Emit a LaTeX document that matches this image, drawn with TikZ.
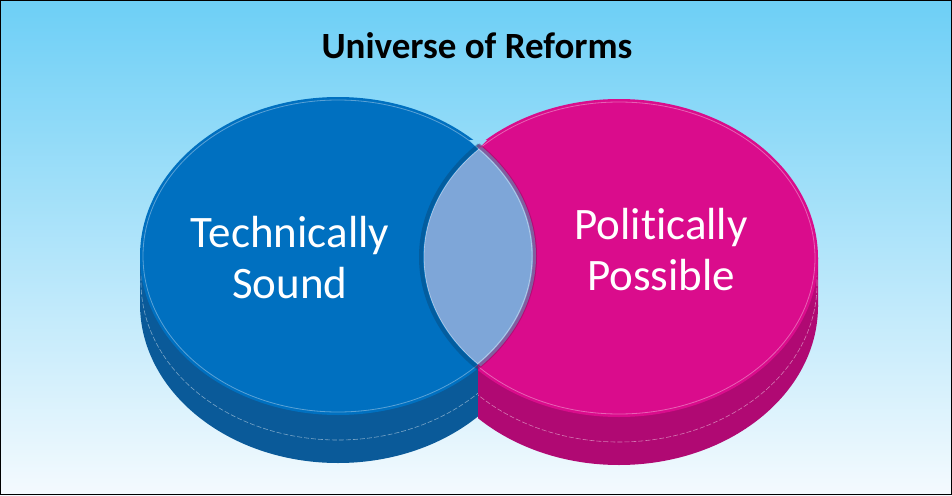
\documentclass[tikz,border=0pt]{standalone}
\usepackage{fontspec}
\setmainfont[Ligatures=NoCommon]{Carlito}
\usepackage{tikz}

\definecolor{skytop}{HTML}{6DCFF6}
\definecolor{skybot}{HTML}{F4FAFE}
\definecolor{techblue}{HTML}{0070C0}
\definecolor{techside}{HTML}{0B64AA}
\definecolor{polpink}{HTML}{DA0C8C}
\definecolor{polside}{HTML}{C40A80}
\definecolor{lensblue}{HTML}{7EA6D8}

\begin{document}
\begin{tikzpicture}
 [x=1pt, y=-1pt,
  label text/.style={text=white, align=center, font=\fontsize{45}{51}\selectfont},
  title text/.style={font=\bfseries\fontsize{37}{40}\selectfont},
  rim line/.style={white, opacity=0.35, line width=0.8pt},
  stitch line/.style={white, opacity=0.45, line width=0.6pt, dash pattern=on 5pt off 2pt}]

\useasboundingbox (0,0) rectangle (952,495);
\shade[top color=skytop, bottom color=skybot] (0,0) rectangle (952,495);

% technically sound disc
\begin{scope}
  \clip (0,0) rectangle (478,495);
  \fill[techside!90!black] (338,304) ellipse [x radius=198pt, y radius=159pt];
  \shade[top color=techside, bottom color=techside!90!black] (140,256) rectangle (536,304);
  \draw[stitch line] (338,282) ellipse [x radius=197pt, y radius=158pt];
  \fill[techblue] (338,256) ellipse [x radius=198pt, y radius=159pt];
  \draw[rim line] (338,256) ellipse [x radius=195pt, y radius=156pt];
\end{scope}

% politically possible disc
\begin{scope}
  \clip (478,0) rectangle (952,495);
  \fill[polside!90!black] (619,306) ellipse [x radius=199pt, y radius=159pt];
  \shade[top color=polside, bottom color=polside!90!black] (420,258) rectangle (818,306);
  \draw[stitch line] (619,284) ellipse [x radius=198pt, y radius=158pt];
  \fill[polpink] (619,258) ellipse [x radius=199pt, y radius=159pt];
  \draw[rim line] (619,258) ellipse [x radius=196pt, y radius=156pt];
\end{scope}

% notch between the discs
\fill[skytop!75!skybot] (469,140) -- (487,140) -- (478,149) -- cycle;

% overlap
\begin{scope}
  \clip (338,256) ellipse [x radius=198pt, y radius=159pt];
  \draw[techside!70!black, line width=4pt, opacity=0.45] (619,257) ellipse [x radius=198pt, y radius=158pt];
  \fill[lensblue] (619,257) ellipse [x radius=195pt, y radius=155pt];
\end{scope}
\begin{scope}
  \clip (619,257) ellipse [x radius=199pt, y radius=159pt];
  \draw[polside!70!black, line width=4pt, opacity=0.45] (338,256) ellipse [x radius=197pt, y radius=158pt];
  \clip (619,257) ellipse [x radius=195pt, y radius=155pt];
  \fill[lensblue] (338,256) ellipse [x radius=194pt, y radius=155pt];
  \draw[white, opacity=0.4, line width=0.8pt] (338,256) ellipse [x radius=194pt, y radius=155pt];
\end{scope}
\begin{scope}
  \clip (338,256) ellipse [x radius=194pt, y radius=155pt];
  \draw[white, opacity=0.4, line width=0.8pt] (619,257) ellipse [x radius=195pt, y radius=155pt];
\end{scope}

\node[title text] (title) at (477,46) {Universe of Reforms};
\node[label text] (tech) at (290,258) {Technically\\Sound};
\node[label text] (pol) at (661,250) {Politically\\Possible};

\draw[black, line width=1.2pt] (0.6,0.6) rectangle (951.4,494.4);
\end{tikzpicture}
\end{document}
